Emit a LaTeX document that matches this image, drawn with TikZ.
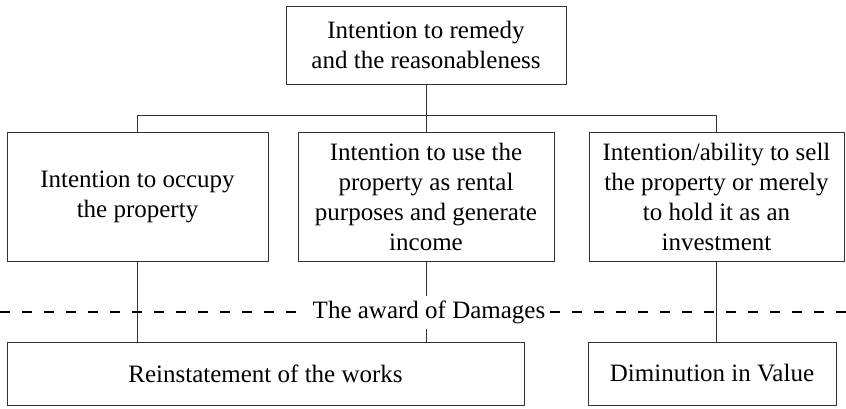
\documentclass[tikz,border=0pt]{standalone}
\usepackage{fontspec}
\setmainfont{Liberation Serif}
\usepackage{tikz}
\usetikzlibrary{positioning, backgrounds}

\begin{document}
\begin{tikzpicture}[x=1pt, y=-1pt,
		caja/.style={shape=rectangle, draw=black!80, line width=0.8pt, align=center, inner sep=0pt,
			font=\fontsize{25}{30}\selectfont},
		linea/.style={draw=black!80, line width=0.8pt}]
			
			\useasboundingbox (0,0) rectangle (846,408);
			
			% Nodo superior
			\node[caja, minimum width=280, minimum height=78] (Remedy) at (426,45)
				{Intention to remedy\\and the reasonableness};
			
			% Nodos de las intenciones
			\node[caja, minimum width=261, minimum height=129] (Occupy) at (137.5,196.5)
				{Intention to occupy\\the property};
			\node[caja, minimum width=256, minimum height=129] (Rental) at (426,196.5)
				{Intention to use the\\property as rental\\purposes and generate\\income};
			\node[caja, minimum width=255, minimum height=129] (Sell) at (716.5,196.5)
				{Intention/ability to sell\\the property or merely\\to hold it as an\\investment};
			
			% Nodos de los danos
			\node[caja, minimum width=517, minimum height=63] (Reinstate) at (265.5,373.5)
				{Reinstatement of the works};
			\node[caja, minimum width=248, minimum height=63] (Diminish) at (712,373.5)
				{Diminution in Value};
			
			% Etiqueta
			\node[fill=white, inner sep=5pt, font=\fontsize{25}{30}\selectfont] (Award) at (429,312)
				{The award of Damages};
			
			\coordinate (Bus) at (426,115);
			\coordinate (DashL) at (0,312);
			\coordinate (DashR) at (846,312);
			
			% Conexiones en la capa de fondo
			\begin{scope}[on background layer]
				% Conecto el nodo superior con las intenciones
				\draw[linea] (Remedy) -- (Bus);
				\draw[linea] (Bus) -| (Occupy);
				\draw[linea] (Bus) -| (Sell);
				\draw[linea] (Bus) -- (Rental);
				
				% Conecto las intenciones con los danos
				\foreach \a in {Occupy,Rental}{
					\draw[linea] (\a.south) -- (\a.south |- Reinstate.north);
				}
				\draw[linea] (Sell.south) -- (Sell.south |- Diminish.north);
				
				% Linea discontinua
				\draw[line width=1.5pt, dash pattern=on 10pt off 12pt] (DashL) -- (DashR);
			\end{scope}
			
		\end{tikzpicture}
\end{document}
